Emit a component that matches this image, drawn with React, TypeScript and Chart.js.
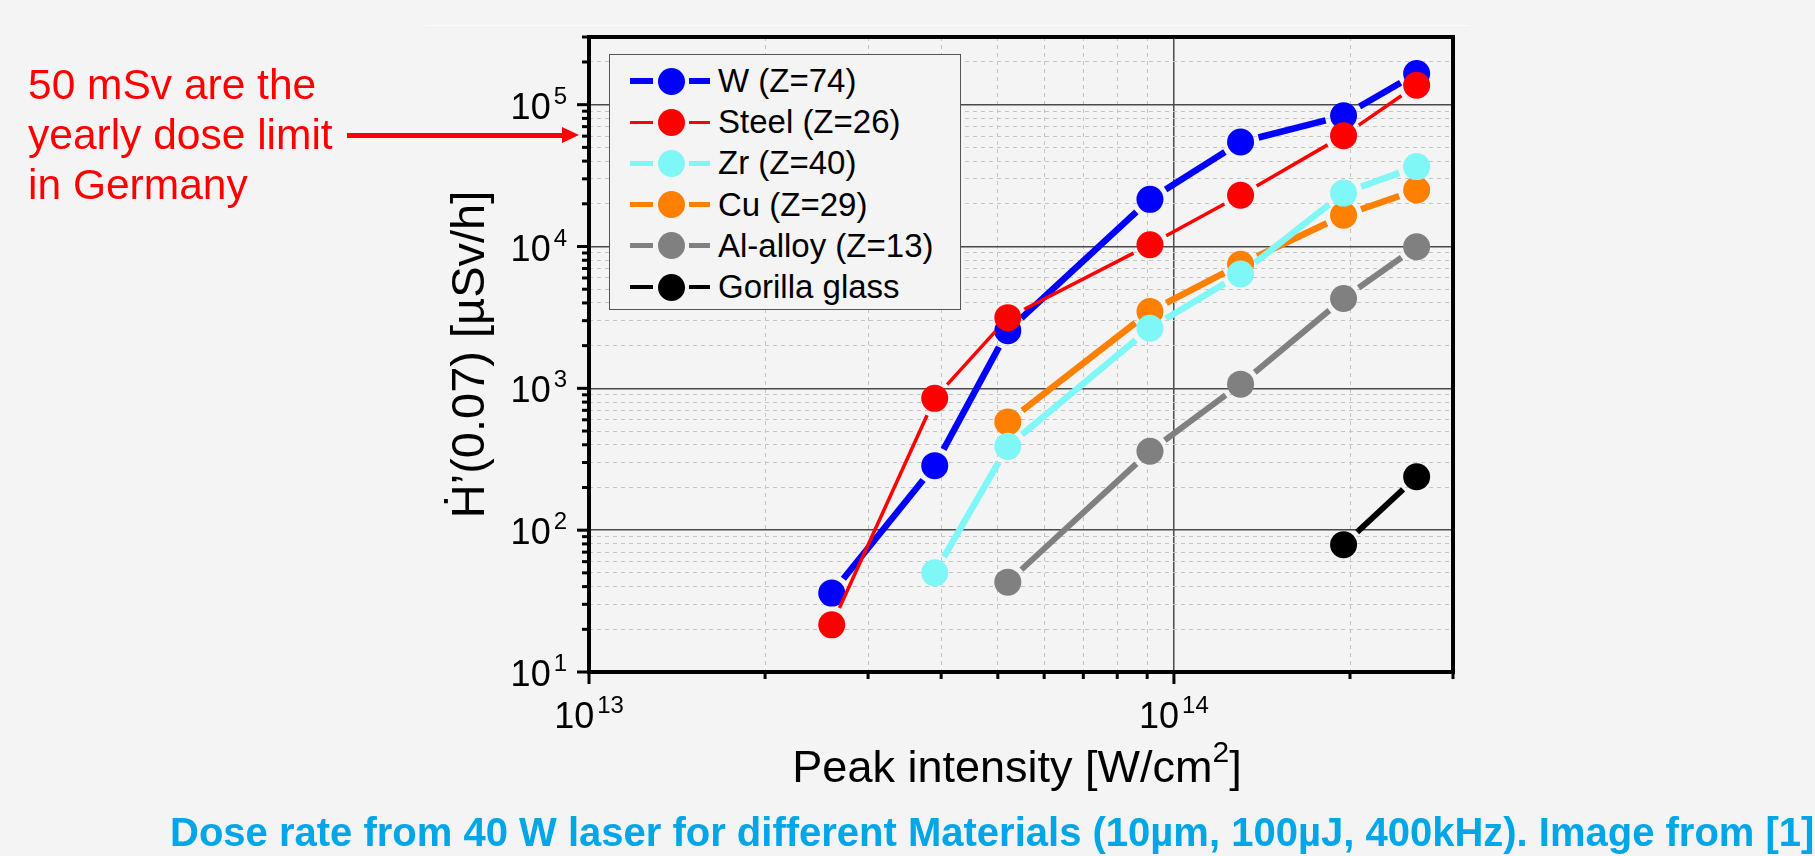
import React, { useEffect, useRef } from "react";
import { Chart, registerables } from "chart.js";

Chart.register(...registerables);

// ---------- data ----------
const intensity = [2.6e13, 3.9e13, 5.2e13, 9.1e13, 1.3e14, 1.95e14, 2.6e14];
const wValues = [36, 285, 2550, 21500, 54500, 83500, 166000];
const steelValues = [21.5, 850, 3150, 10300, 23000, 60500, 137000];
const zrValues = [null, 50, 390, 2650, 6400, 23800, 36600];
const cuValues = [null, null, 580, 3480, 7500, 16600, 25000];
const alValues = [null, null, 43, 360, 1070, 4300, 9950];
const glassValues = [null, null, null, null, null, 79, 238];

const seriesLabels = ["W (Z=74)", "Steel (Z=26)", "Zr (Z=40)", "Cu (Z=29)", "Al-alloy (Z=13)", "Gorilla glass"];
const seriesValues = [wValues, steelValues, zrValues, cuValues, alValues, glassValues];
const seriesColors = ["#0000ff", "#ff0000", "#7ff7f7", "#ff8000", "#808080", "#000000"];
const seriesLineWidths = [6.5, 3.5, 6.5, 6.5, 6, 6];
const seriesLayer = [6, 5, 3, 4, 2, 1]; // lower = drawn on top

const xDecades = [1e13, 1e14];
const yDecades = [1e1, 1e2, 1e3, 1e4, 1e5];
const xMin = 1e13, xMax = 3e14;
const yMin = 1e1, yMax = 3e5;

const xTitleMain = "Peak intensity [W/cm";
const xTitleSup = "2";
const xTitleEnd = "]";
const yTitle = "Ḣ’(0.07) [µSv/h]";
const noteLines = ["50 mSv are the", "yearly dose limit", "in Germany"];
const caption = "Dose rate from 40 W laser for different Materials (10µm, 100µJ, 400kHz). Image from [1]";

// ---------- style ----------
const BG = "#f4f4f4";
const FONT = '"Liberation Sans", Arial, "Noto Sans", sans-serif';
const MARKER_R = 13.5;
const GAP = 5;

function logTicks(min: number, max: number) {
  const out: { value: number; major: boolean }[] = [];
  for (let d = Math.pow(10, Math.floor(Math.log10(min))); d <= max; d *= 10) {
    for (let m = 1; m <= 9; m++) {
      const v = Math.round(m * d);
      if (v >= min * 0.999 && v <= max * 1.001) out.push({ value: v, major: m === 1 });
    }
  }
  return out;
}

const gapLines = {
  id: "gapLines",
  beforeDatasetDraw(chart: any, args: any) {
    const ds = chart.data.datasets[args.index];
    const pts = args.meta.data;
    const ctx = chart.ctx;
    ctx.save();
    ctx.strokeStyle = ds.lineColor;
    ctx.lineWidth = ds.lineW;
    ctx.lineCap = "butt";
    const cut = MARKER_R + GAP;
    for (let i = 0; i < pts.length - 1; i++) {
      const a = pts[i], b = pts[i + 1];
      const dx = b.x - a.x, dy = b.y - a.y;
      const L = Math.hypot(dx, dy);
      if (L <= 2 * cut) continue;
      const ux = dx / L, uy = dy / L;
      ctx.beginPath();
      ctx.moveTo(a.x + ux * cut, a.y + uy * cut);
      ctx.lineTo(b.x - ux * cut, b.y - uy * cut);
      ctx.stroke();
    }
    ctx.restore();
  },
};

const frameAndLabels = {
  id: "frameAndLabels",
  afterDraw(chart: any) {
    const ctx = chart.ctx;
    const { left, right, top, bottom } = chart.chartArea;
    const xs = chart.scales.x, ys = chart.scales.y;
    ctx.save();
    ctx.strokeStyle = "#000";
    ctx.lineWidth = 3;
    for (const t of xs.ticks) {
      const px = xs.getPixelForValue(t.value);
      const len = t.major ? 12 : 7;
      ctx.beginPath();
      ctx.moveTo(px, bottom);
      ctx.lineTo(px, bottom + len);
      ctx.stroke();
    }
    for (const t of ys.ticks) {
      const py = ys.getPixelForValue(t.value);
      const len = t.major ? 12 : 7;
      ctx.beginPath();
      ctx.moveTo(left, py);
      ctx.lineTo(left - len, py);
      ctx.stroke();
    }
    ctx.lineWidth = 4;
    ctx.strokeRect(left, top, right - left, bottom - top);

    ctx.fillStyle = "#000";
    ctx.textBaseline = "alphabetic";
    const baseFont = `36px ${FONT}`;
    const expFont = `24px ${FONT}`;
    for (const v of xDecades) {
      const px = xs.getPixelForValue(v);
      const e = String(Math.round(Math.log10(v)));
      ctx.font = baseFont;
      const w1 = ctx.measureText("10").width;
      ctx.font = expFont;
      const w2 = ctx.measureText(e).width;
      const total = w1 + 3 + w2;
      const sx = px - total / 2;
      ctx.font = baseFont;
      ctx.textAlign = "left";
      ctx.fillText("10", sx, bottom + 56);
      ctx.font = expFont;
      ctx.fillText(e, sx + w1 + 3, bottom + 41);
    }
    for (const v of yDecades) {
      const py = ys.getPixelForValue(v);
      const e = String(Math.round(Math.log10(v)));
      ctx.font = expFont;
      const w2 = ctx.measureText(e).width;
      const ex = left - 22 - w2;
      ctx.textAlign = "left";
      ctx.fillText(e, ex, py - 1);
      ctx.font = baseFont;
      ctx.textAlign = "right";
      ctx.fillText("10", ex - 3, py + 14);
    }

    // x axis title with real superscript
    const tMain = `45px ${FONT}`;
    const tSup = `30px ${FONT}`;
    ctx.font = tMain;
    const a = ctx.measureText(xTitleMain).width;
    const c = ctx.measureText(xTitleEnd).width;
    ctx.font = tSup;
    const b = ctx.measureText(xTitleSup).width;
    const total = a + b + c;
    const cx = (left + right) / 2 - 4;
    let x0 = cx - total / 2;
    ctx.textAlign = "left";
    ctx.font = tMain;
    ctx.fillText(xTitleMain, x0, 782);
    ctx.font = tSup;
    ctx.fillText(xTitleSup, x0 + a, 762);
    ctx.font = tMain;
    ctx.fillText(xTitleEnd, x0 + a + b, 782);
    ctx.restore();
  },
};

export default function App() {
  const ref = useRef<HTMLCanvasElement | null>(null);

  useEffect(() => {
    document.body.style.margin = "0";
    document.body.style.background = BG;
    const datasets = seriesLabels.map((label, i) => ({
      label,
      data: intensity
        .map((x, j) => (seriesValues[i][j] == null ? null : { x, y: seriesValues[i][j] as number }))
        .filter((p) => p !== null),
      showLine: false,
      pointRadius: MARKER_R,
      pointHoverRadius: MARKER_R,
      pointBackgroundColor: seriesColors[i],
      pointBorderWidth: 0,
      borderColor: seriesColors[i],
      backgroundColor: seriesColors[i],
      order: seriesLayer[i],
      clip: false,
      lineColor: seriesColors[i],
      lineW: seriesLineWidths[i],
    }));

    const chart = new Chart(ref.current as HTMLCanvasElement, {
      type: "scatter",
      data: { datasets } as any,
      plugins: [gapLines, frameAndLabels],
      options: {
        responsive: false,
        maintainAspectRatio: false,
        devicePixelRatio: 1,
        animation: false,
        layout: { padding: { left: 0, top: 37, right: 362, bottom: 0 }, autoPadding: false } as any,
        plugins: { legend: { display: false }, tooltip: { enabled: false } },
        scales: {
          x: {
            type: "logarithmic",
            position: "bottom",
            min: xMin,
            max: xMax,
            afterBuildTicks: (s: any) => { s.ticks = logTicks(xMin, xMax); },
            afterFit: (s: any) => { s.height = 184; },
            ticks: { display: false },
            grid: {
              drawTicks: false,
              color: (c: any) => (c.tick && c.tick.major ? "#4a4a4a" : "#c4c4c4"),
              lineWidth: (c: any) => (c.tick && c.tick.major ? 1.5 : 1),
            },
            border: { display: false, dash: (c: any) => (c.tick && !c.tick.major ? [4, 4] : []) },
            title: { display: false },
          },
          y: {
            type: "logarithmic",
            position: "left",
            min: yMin,
            max: yMax,
            afterBuildTicks: (s: any) => { s.ticks = logTicks(yMin, yMax); },
            afterFit: (s: any) => { s.width = 589; },
            ticks: { display: false },
            grid: {
              drawTicks: false,
              color: (c: any) => (c.tick && c.tick.major ? "#4a4a4a" : "#c4c4c4"),
              lineWidth: (c: any) => (c.tick && c.tick.major ? 1.5 : 1),
            },
            border: { display: false, dash: (c: any) => (c.tick && !c.tick.major ? [4, 4] : []) },
            title: {
              display: true,
              text: yTitle,
              color: "#000",
              font: { family: FONT, size: 47 },
              padding: { top: 443, bottom: 0 },
            },
          },
        } as any,
      },
    } as any);
    return () => chart.destroy();
  }, []);

  const rowY = (i: number) => 81 + i * 41.2;

  return (
    <div style={{ position: "fixed", left: 0, top: 0, width: 1815, height: 856, background: BG, overflow: "hidden", fontFamily: FONT }}>
      <div style={{ position: "absolute", left: 425, top: 25, width: 1045, height: 1, background: "#fbfbfb" }} />
      <canvas ref={ref} width={1815} height={856} style={{ position: "absolute", left: 0, top: 0, width: 1815, height: 856 }} />

      {/* legend */}
      <div style={{ position: "absolute", left: 609, top: 54, width: 352, height: 256, boxSizing: "border-box", border: "1.5px solid #555", background: BG }} />
      {seriesLabels.map((label, i) => {
        const yc = rowY(i);
        const lw = Math.max(3, seriesLineWidths[i] * 0.8);
        return (
          <React.Fragment key={label}>
            <div style={{ position: "absolute", left: 630, top: yc - lw / 2, width: 23, height: lw, background: seriesColors[i] }} />
            <div style={{ position: "absolute", left: 689, top: yc - lw / 2, width: 21, height: lw, background: seriesColors[i] }} />
            <div style={{ position: "absolute", left: 671 - MARKER_R, top: yc - MARKER_R, width: MARKER_R * 2, height: MARKER_R * 2, borderRadius: "50%", background: seriesColors[i] }} />
            <div style={{ position: "absolute", left: 718, top: yc - 20, height: 40, lineHeight: "40px", fontSize: 33, color: "#000", whiteSpace: "nowrap" }}>{label}</div>
          </React.Fragment>
        );
      })}

      {/* annotation */}
      <div style={{ position: "absolute", left: 28, top: 60, fontSize: 42.5, lineHeight: "50px", color: "#ff0000", whiteSpace: "nowrap" }}>
        {noteLines.map((l) => (
          <div key={l}>{l}</div>
        ))}
      </div>
      <div style={{ position: "absolute", left: 347, top: 132.5, width: 216, height: 5, background: "#ff0000" }} />
      <div style={{ position: "absolute", left: 562, top: 127, width: 0, height: 0, borderTop: "8px solid transparent", borderBottom: "8px solid transparent", borderLeft: "17px solid #ff0000" }} />

      {/* caption */}
      <div style={{ position: "absolute", left: 170, top: 812, fontSize: 40, fontWeight: "bold", lineHeight: "40px", color: "#00a6e6", whiteSpace: "nowrap" }}>
        {caption}
      </div>
    </div>
  );
}
